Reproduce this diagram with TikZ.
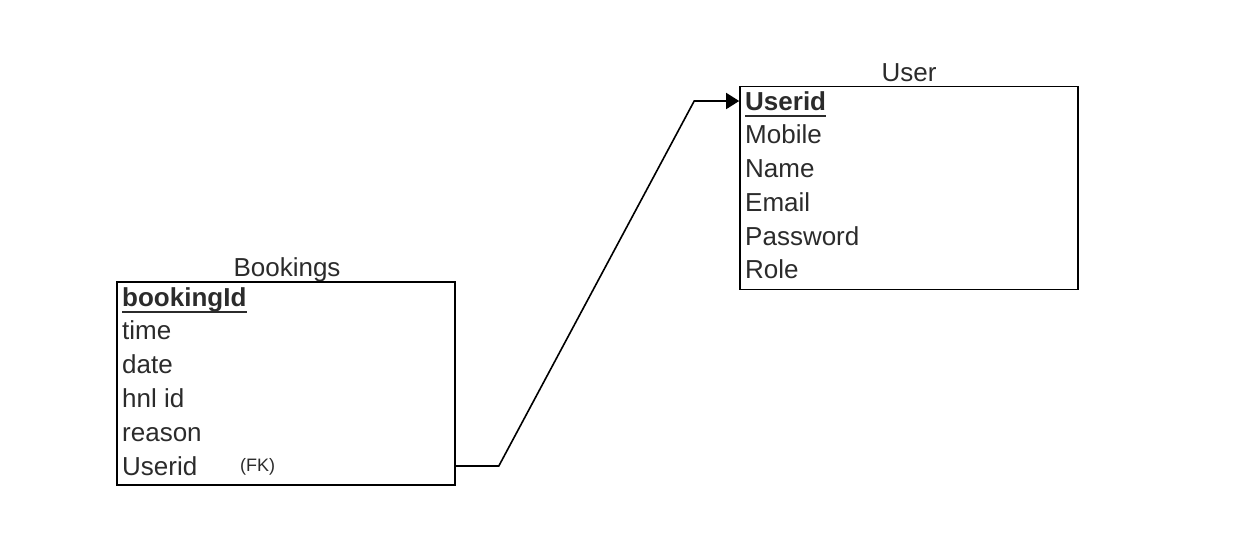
\documentclass[tikz,border=0pt]{standalone}
\usepackage{fontspec}
\setmainfont{Liberation Sans}
\usetikzlibrary{arrows.meta}
\definecolor{txt}{HTML}{2B2B2B}
\begin{document}
\begin{tikzpicture}[x=1pt,y=-1pt,
  box/.style={draw=black, line width=1.6pt, minimum width=338pt, minimum height=203pt, inner sep=0pt},
  row/.style={anchor=west, inner sep=0pt, text height=19pt, text depth=1pt, font=\fontsize{26}{30}\selectfont, text=txt},
  keyrow/.style={row, font=\fontsize{26}{30}\selectfont\bfseries},
  title/.style={font=\fontsize{26}{30}\selectfont, text=txt, inner sep=0pt, anchor=base},
  fkstyle/.style={font=\fontsize{18}{20}\selectfont, text=txt, inner sep=0pt, anchor=west},
  uline/.style={draw=txt, line width=1.8pt},
  conn/.style={draw=black, line width=1.6pt, -{Triangle[length=13pt,width=16pt]}}
]
\useasboundingbox (0,0) rectangle (1255,558);

% User entity
\node[title] (usertitle) at (909,81) {User};
\node[box] (user) at (909,188) {};
\node[keyrow] (u1) at (745,101) {Userid};
\node[row] (u2) at (745,134) {Mobile};
\node[row] (u3) at (745,168) {Name};
\node[row] (u4) at (745,202) {Email};
\node[row] (u5) at (745,236) {Password};
\node[row] (u6) at (745,269) {Role};
\draw[uline] ([yshift=-6pt]u1.base west) -- ([yshift=-6pt]u1.base east);

% Bookings entity
\node[title] (booktitle) at (287,276) {Bookings};
\node[box] (book) at (286,383.5) {};
\node[keyrow] (b1) at (122,297) {bookingId};
\node[row] (b2) at (122,330) {time};
\node[row] (b3) at (122,364) {date};
\node[row] (b4) at (122,398) {hnl id};
\node[row] (b5) at (122,432) {reason};
\node[row] (b6) at (122,466) {Userid};
\node[fkstyle] (fk) at (240,467) {(FK)};
\draw[uline] ([yshift=-6pt]b1.base west) -- ([yshift=-6pt]b1.base east);

% Connector
\draw[conn] (book.east |- b6) -- ++(43,0) -- ([xshift=-45pt]user.west |- u1) -- (user.west |- u1);
\end{tikzpicture}
\end{document}
